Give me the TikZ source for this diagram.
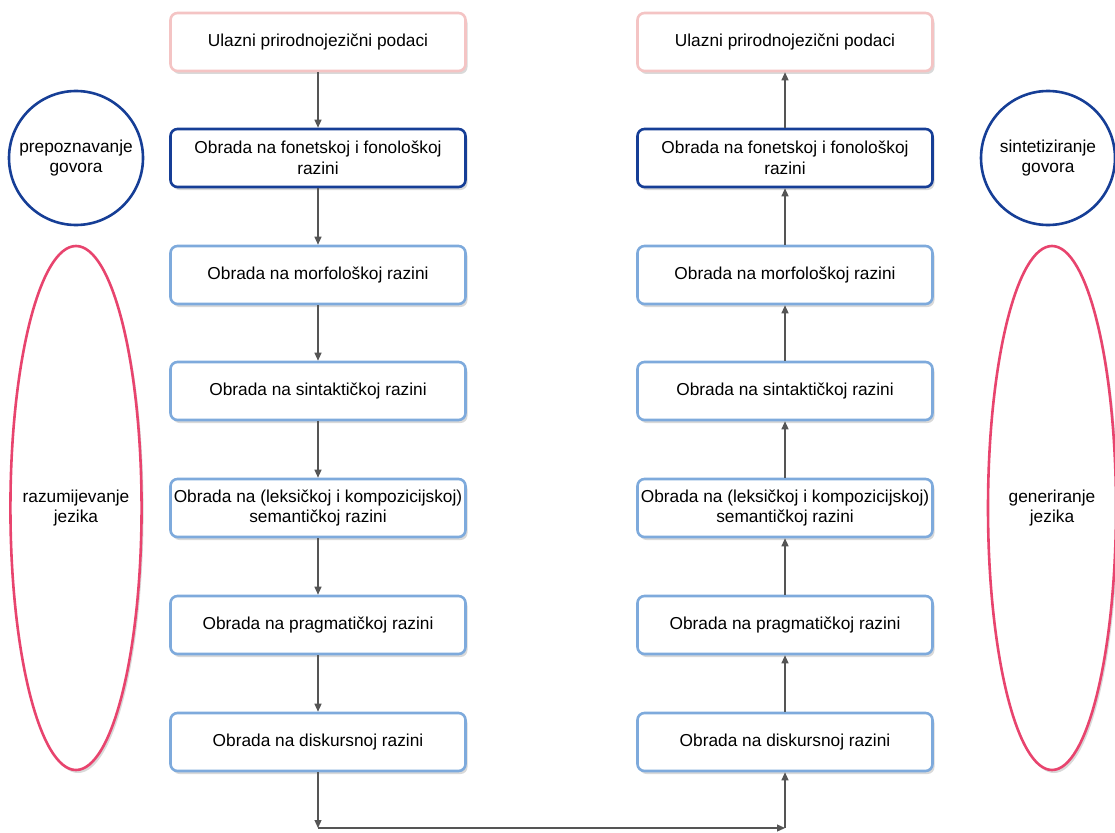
\documentclass[tikz,border=0pt]{standalone}
\usepackage{fontspec}
\setmainfont{Liberation Sans}
\usetikzlibrary{shadows, arrows.meta, shapes.geometric}

\definecolor{inputpink}{RGB}{244,196,196}
\definecolor{levelblue}{RGB}{126,170,220}
\definecolor{speechblue}{RGB}{22,62,150}
\definecolor{langpink}{RGB}{232,68,110}
\definecolor{flowgray}{RGB}{85,85,85}

\begin{document}
\begin{tikzpicture}[x=1pt,y=-1pt]
  \tikzstyle{level}=[draw=levelblue, line width=2.6pt, rounded corners=7pt, fill=white, minimum width=295pt, minimum height=58pt, align=center, inner sep=0pt, font=\fontsize{17.3}{20.5}\selectfont, drop shadow={shadow xshift=2pt, shadow yshift=-3pt, opacity=0.3}]
  \tikzstyle{input}=[level, draw=inputpink]
  \tikzstyle{phon}=[level, draw=speechblue]
  \tikzstyle{speech}=[circle, draw=speechblue, line width=2.6pt, fill=white, minimum size=134pt, align=center, inner sep=0pt, font=\fontsize{17.3}{20.5}\selectfont]
  \tikzstyle{lang}=[ellipse, draw=langpink, line width=2.6pt, fill=white, minimum width=128pt, minimum height=524pt, align=center, inner sep=-7pt, font=\fontsize{17.3}{20.5}\selectfont, drop shadow={shadow xshift=2pt, shadow yshift=-3pt, opacity=0.3}]
  \tikzstyle{flow}=[draw=flowgray, line width=1.2pt, -{Triangle[length=8pt, width=7pt]}]

  \useasboundingbox (0,0) rectangle (1115,832);

  % analysis (left)
  \node (L1) [input] at (318,42) {Ulazni prirodnojezični podaci};
  \node (L2) [phon] at (318,158) {Obrada na fonetskoj i fonološkoj\\razini};
  \node (L3) [level] at (318,275) {Obrada na morfološkoj razini};
  \node (L4) [level] at (318,391) {Obrada na sintaktičkoj razini};
  \node (L5) [level] at (318,508) {Obrada na (leksičkoj i kompozicijskoj)\\semantičkoj razini};
  \node (L6) [level] at (318,625) {Obrada na pragmatičkoj razini};
  \node (L7) [level] at (318,742) {Obrada na diskursnoj razini};

  % synthesis (right)
  \node (R1) [input] at (785,42) {Ulazni prirodnojezični podaci};
  \node (R2) [phon] at (785,158) {Obrada na fonetskoj i fonološkoj\\razini};
  \node (R3) [level] at (785,275) {Obrada na morfološkoj razini};
  \node (R4) [level] at (785,391) {Obrada na sintaktičkoj razini};
  \node (R5) [level] at (785,508) {Obrada na (leksičkoj i kompozicijskoj)\\semantičkoj razini};
  \node (R6) [level] at (785,625) {Obrada na pragmatičkoj razini};
  \node (R7) [level] at (785,742) {Obrada na diskursnoj razini};

  \node (speechL) [speech] at (76,158) {prepoznavanje\\govora};
  \node (langL) [lang] at (76,508) {razumijevanje\\jezika};
  \node (speechR) [speech] at (1048,158) {sintetiziranje\\govora};
  \node (langR) [lang] at (1052,508) {generiranje\\jezika};

  \foreach \i [evaluate=\i as \j using int(\i+1)] in {1,...,6} {
    \draw[flow] (L\i) -- (L\j);
    \draw[flow] (R\j) -- (R\i);
  }

  \coordinate (turnL) at (318,828);
  \coordinate (turnR) at (785,828);
  \draw[flow] (L7) -- (turnL);
  \draw[flow] (turnL) -- (turnR);
  \draw[flow] (turnR) -- (R7);

\end{tikzpicture}
\end{document}
